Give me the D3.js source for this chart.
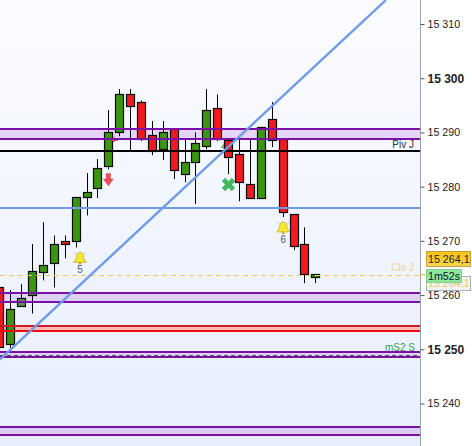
<!DOCTYPE html>
<html>
<head>
<meta charset="utf-8">
<script src="https://cdnjs.cloudflare.com/ajax/libs/d3/7.8.5/d3.min.js"></script>
<style>
html,body{margin:0;padding:0;background:#fff;overflow:hidden}
svg{display:block}
text{font-family:"Liberation Sans",Arial,sans-serif}
</style>
</head>
<body>
<svg id="c" width="472" height="446"></svg>
<script>
const opens  = [15261.4,15250.9,15257.9,15260.0,15264.2,15265.9,15269.9,15269.9,15278.0,15279.7,15283.8,15289.9,15297.0,15295.6,15289.5,15286.9,15290.6,15282.3,15284.5,15287.5,15294.5,15288.6,15286.0,15280.4,15277.9,15292.4,15288.7,15274.9,15269.4,15263.3];
const closes = [15250.4,15257.4,15259.4,15264.4,15265.5,15269.4,15269.4,15278.0,15279.0,15283.4,15290.0,15297.0,15294.8,15288.7,15286.5,15290.0,15283.0,15284.5,15288.0,15294.1,15288.7,15285.4,15280.8,15277.9,15291.0,15288.6,15275.3,15269.0,15263.8,15263.8];
const highs  = [15261.4,15260.9,15262.0,15269.4,15273.4,15271.0,15271.0,15278.0,15282.5,15285.1,15294.1,15298.0,15298.0,15295.9,15292.1,15292.1,15290.6,15288.6,15290.0,15298.0,15297.0,15288.6,15288.6,15288.6,15291.0,15295.6,15288.7,15274.9,15272.5,15263.8];
const lows   = [15250.4,15250.2,15257.9,15256.6,15262.7,15261.4,15266.8,15268.8,15274.7,15277.9,15283.2,15289.3,15286.5,15288.4,15285.8,15284.9,15281.4,15280.8,15276.8,15286.9,15288.4,15282.3,15277.3,15277.9,15277.9,15287.3,15274.4,15268.3,15262.2,15262.2];
const dimmedCandle = 2;

const tickValues = [15240,15250,15260,15270,15280,15290,15300,15310];
const boldTicks  = [15250,15300];
const bands = [[15288.75,15290.65],[15258.67,15260.33],[15248.52,15249.45],[15234.19,15235.66]];
const redBand = [15253.4,15254.24];
const pivot = 15286.57, blueLevel = 15276.0, cloLevel = 15263.75, ms2Level = 15249.0;
const trend = [[0.055,15248.15],[35.47,15314.39]];
const bellMarks = [[7.4,15266.7,"5"],[26.06,15272.3,"6"]];

const W = 472, H = 446, plotR = 420.5;
const x = d3.scaleLinear().domain([0,29]).range([-0.6,315.3]);
const y = d3.scaleLinear().domain([15240,15310]).range([403.5,24]);
const ry = v => Math.round(y(v));
const svg = d3.select("#c");
const fmt = v => String(v).replace(/^(\d+)(\d{3})$/,"$1 $2");

const defs = svg.append("defs");
const g = defs.append("linearGradient").attr("id","bg").attr("x1",0).attr("x2",0).attr("y1",0).attr("y2",1);
g.append("stop").attr("offset",0).attr("stop-color","#fbfcff");
g.append("stop").attr("offset",1).attr("stop-color","#e7eefd");
const gb = defs.append("linearGradient").attr("id","tag").attr("x1",0).attr("x2",0).attr("y1",0).attr("y2",1);
gb.append("stop").attr("offset",0).attr("stop-color","#f9bf10");
gb.append("stop").attr("offset",1).attr("stop-color","#fbd850");

svg.append("rect").attr("width",W).attr("height",H).attr("fill","#fff");
svg.append("rect").attr("width",plotR).attr("height",H).attr("fill","url(#bg)");
const plot = svg.append("g");

// band fills sit under the candles
bands.forEach(b=>{
  plot.append("rect").attr("x",0).attr("width",plotR).attr("y",ry(b[1])).attr("height",ry(b[0])-ry(b[1]))
    .attr("fill","#c58be8").attr("fill-opacity",0.32);
});
plot.append("rect").attr("x",0).attr("width",plotR).attr("y",ry(redBand[1])).attr("height",ry(redBand[0])-ry(redBand[1]))
  .attr("fill","#ffb8b8");

// small arrow partly hidden by candle 21
const arrow = (cx,cy,rot,col,s=1)=>plot.append("path")
  .attr("d","M-2.5,-6.5H2.5V-1H5.5L0,6.5L-5.5,-1H-2.5Z")
  .attr("transform",`translate(${cx},${cy}) rotate(${rot}) scale(${s})`).attr("fill",col);
arrow(226,147,180,"#58c05a",1);

// candles
const candles = d3.range(opens.length);
plot.selectAll("line.w").data(candles).join("line").attr("class","w")
  .attr("x1",i=>Math.round(x(i))+0.5).attr("x2",i=>Math.round(x(i))+0.5)
  .attr("y1",i=>y(highs[i])).attr("y2",i=>y(lows[i]))
  .attr("stroke","#000").attr("stroke-width",1);
plot.selectAll("rect.b").data(candles).join("rect").attr("class","b")
  .attr("x",i=>Math.round(x(i))-3.5).attr("width",8)
  .attr("y",i=>Math.round(y(Math.max(opens[i],closes[i])))+0.5)
  .attr("height",i=>Math.max(2,Math.round(Math.abs(y(opens[i])-y(closes[i])))))
  .attr("fill",i=>i===dimmedCandle?"#5f8a52":(closes[i]>=opens[i]?"#3a9610":"#f01a20"))
  .attr("stroke","#0a0a0a").attr("stroke-width",1.2);

arrow(108.3,179.8,0,"#e6505c");
arrow(114,139.5,90,"#d8445e",0.55);

// band edges over the candles
bands.forEach(b=>{
  b.forEach(v=>plot.append("line").attr("x1",0).attr("x2",plotR).attr("y1",ry(v)).attr("y2",ry(v))
    .attr("stroke","#7a10a8").attr("stroke-width",2));
});
plot.append("line").attr("x1",0).attr("x2",plotR).attr("y1",ry(redBand[1])).attr("y2",ry(redBand[1])).attr("stroke","#c81e28").attr("stroke-width",2);
plot.append("line").attr("x1",0).attr("x2",plotR).attr("y1",ry(redBand[0])).attr("y2",ry(redBand[0])).attr("stroke","#f00a10").attr("stroke-width",2);

const hl = (v,col,w,dash,off=0)=>plot.append("line").attr("x1",0).attr("x2",plotR).attr("y1",ry(v)+off).attr("y2",ry(v)+off)
  .attr("stroke",col).attr("stroke-width",w).attr("stroke-dasharray",dash||null);
hl(pivot,"#000",2);
hl(blueLevel,"#6f9be0",2);
hl(cloLevel,"#eec860",1,"5 4",0.5);
hl(ms2Level,"#555",1,"4 3",0.5);

// trend line
plot.append("line")
  .attr("x1",x(trend[0][0])).attr("y1",y(trend[0][1]))
  .attr("x2",x(trend[1][0])).attr("y2",y(trend[1][1]))
  .attr("stroke","#6d9bea").attr("stroke-width",2.4);

// cross
plot.append("path").attr("d",d3.symbol(d3.symbolCross,110)())
  .attr("transform","translate(228.5,184.5) rotate(45)").attr("fill","#42b85e");

// bells
bellMarks.forEach(([i,v,n])=>{
  const bx=x(i), by=y(v);
  const bell=plot.append("g").attr("transform",`translate(${bx},${by})`);
  bell.append("path").attr("d","M0,-6.5C-1.5,-6.5 -3.5,-5.5 -3.5,-2.5C-3.5,0.5 -5,1.5 -6.5,3.5H6.5C5,1.5 3.5,0.5 3.5,-2.5C3.5,-5.5 1.5,-6.5 0,-6.5Z")
    .attr("fill","#f8e82a").attr("stroke","#bdb040").attr("stroke-width",0.8);
  bell.append("circle").attr("cy",4.5).attr("r",1.4).attr("fill","#d8b020");
  bell.append("path").attr("d","M-5.5,-6L-4.5,-4.5M5.5,-6L4.5,-4.5").attr("stroke","#a8a8a0").attr("stroke-width",0.8);
  plot.append("text").attr("x",bx).attr("y",by+14.5).attr("text-anchor","middle").attr("font-size",10).attr("fill","#556").text(n);
});

// level labels
const lab=(t,xr,yb,col)=>plot.append("text").attr("x",xr).attr("y",yb).attr("text-anchor","end").attr("font-size",10).attr("fill",col).text(t);
lab("Piv J",414,148,"#333");
lab("Clo J",414,271,"#efd488");
lab("mS2 S",415,351,"#3c9a50");

// axis
svg.append("line").attr("x1",plotR).attr("x2",plotR).attr("y1",0).attr("y2",H).attr("stroke","#9aa4b0").attr("stroke-width",1);
const axis = svg.append("g").attr("transform",`translate(${plotR},0)`)
  .call(d3.axisRight(y).tickValues(tickValues).tickSize(4).tickPadding(3).tickFormat(fmt));
axis.select(".domain").remove();
axis.selectAll(".tick line").attr("stroke","#555");
axis.selectAll(".tick text")
  .attr("font-family",'"Liberation Sans",Arial,sans-serif')
  .attr("fill","#222")
  .attr("font-size",d=>boldTicks.includes(d)?12:10.7)
  .attr("font-weight",d=>boldTicks.includes(d)?"bold":"normal");
svg.append("line").attr("x1",plotR).attr("x2",plotR+5).attr("y1",y(cloLevel)).attr("y2",y(cloLevel)).attr("stroke","#e0b020");

// tags
const tag=(x0,y0,w,h,fill,stroke,t,col)=>{
  const gg=svg.append("g");
  gg.append("rect").attr("x",x0+0.5).attr("y",y0+0.5).attr("width",w).attr("height",h).attr("fill",fill).attr("stroke",stroke);
  gg.append("text").attr("x",x0+2).attr("y",y0+h/2+4).attr("font-size",10.7).attr("fill",col).text(t);
};
tag(426,276,44,14,"#f2f4f4","#a8b0b8","15 264,1","#eac860");
tag(426,251,44,15,"url(#tag)","#c0a040","15 264,1","#222");
tag(426,269,35,13,"#8fe89a","#80d090","1m52s","#113");
</script>
</body>
</html>
